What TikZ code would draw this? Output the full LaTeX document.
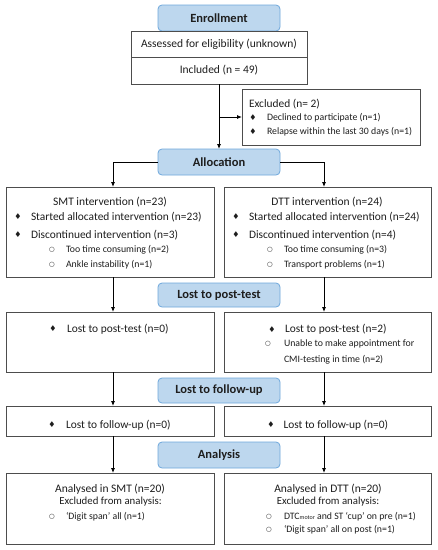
\documentclass[tikz,border=0pt]{standalone}
\usepackage{fontspec}
\setmainfont{Carlito}
\newfontfamily\dejavu{DejaVu Sans}
\usetikzlibrary{arrows.meta}
\definecolor{hdrfill}{HTML}{BDD7EE}
\definecolor{hdrdraw}{HTML}{6FA8DC}
\definecolor{boxdraw}{HTML}{4D4D4D}
\definecolor{txt}{HTML}{1E1E1E}
\newcommand{\dia}{{\dejavu\fontsize{8}{9}\selectfont\char"2666}}
\newcommand{\circb}{{\dejavu\fontsize{6.5}{7}\selectfont\char"25CB}}
\begin{document}
\begin{tikzpicture}[x=1pt,y=-1pt,
  hdr/.style={draw=hdrdraw, fill=hdrfill, rounded corners=4pt, line width=0.8pt,
    minimum width=122pt, inner sep=0pt, outer sep=0pt, text=txt,
    font=\fontsize{12.5}{14}\selectfont\bfseries},
  box/.style={draw=boxdraw, line width=0.8pt, inner sep=0pt, outer sep=0pt},
  lbl/.style={inner sep=0pt, outer sep=0pt, text=txt, font=\fontsize{11.5}{13}\selectfont},
  sml/.style={inner sep=0pt, outer sep=0pt, text=txt, font=\fontsize{9.8}{11}\selectfont, anchor=west},
  big/.style={inner sep=0pt, outer sep=0pt, text=txt, font=\fontsize{11.4}{13}\selectfont, anchor=west},
  mk/.style={inner sep=0pt, outer sep=0pt, text=txt},
  arr/.style={draw=black, line width=0.8pt, -{Latex[length=5pt,width=4pt]}},
  ln/.style={draw=black, line width=0.8pt}]
\useasboundingbox (0,0) rectangle (438,550);
\fill[white] (0,0) rectangle (438,550);

% ---------- Enrollment ----------
\node[hdr, minimum height=26pt] (enr) at (219,18) {Enrollment};
\node[box, minimum width=176pt, minimum height=26pt] (ass) at (219,44) {};
\node[lbl] (asst) at (ass.center) {Assessed for eligibility (unknown)};
\node[box, minimum width=176pt, minimum height=27pt] (inc) at (219,70.5) {};
\node[lbl] (inct) at (inc.center) {Included (n = 49)};

\node[box, minimum width=178pt, minimum height=56pt] (exc) at (331,117) {};
\node[big, font=\fontsize{11.4}{13}\selectfont] (exct) at (249,104) {Excluded (n= 2)};
\node[mk] (exb1) at (253,118) {\dia};
\node[sml] (ex1) at (267,118) {Declined to participate (n=1)};
\node[mk] (exb2) at (253,132) {\dia};
\node[sml] (ex2) at (267,132) {Relapse within the last 30 days (n=1)};

% ---------- Allocation ----------
\node[hdr, minimum height=26pt] (alc) at (219,162) {Allocation};
\coordinate (exj) at (219,117);
\draw[ln] (inc.south) -- (exj);
\draw[arr] (exj) -- (exc.west |- exj);
\draw[arr] (exj) -- (alc.north);

\node[box, minimum width=208pt, minimum height=90pt] (smt) at (110,232) {};
\node[box, minimum width=207pt, minimum height=90pt] (dtt) at (327.5,232) {};
\draw[arr] (alc.west) -| ([xshift=3]smt.north);
\draw[arr] (alc.east) -| ([xshift=-3.5]dtt.north);

\node[lbl] (smtt) at (110,202) {SMT intervention (n=23)};
\node[mk] (sb1) at (18,217) {\dia};
\node[big] (s1) at (31,217) {Started allocated intervention (n=23)};
\node[mk] (sb2) at (18,235) {\dia};
\node[big] (s2) at (31,235) {Discontinued intervention (n=3)};
\node[mk] (sc1) at (52,250) {\circb};
\node[sml] (s3) at (66,250) {Too time consuming (n=2)};
\node[mk] (sc2) at (52,264.5) {\circb};
\node[sml] (s4) at (66,264.5) {Ankle instability (n=1)};

\node[lbl] (dttt) at (327,202) {DTT intervention (n=24)};
\node[mk] (db1) at (236,217) {\dia};
\node[big] (d1) at (249,217) {Started allocated intervention (n=24)};
\node[mk] (db2) at (236,235) {\dia};
\node[big] (d2) at (249,235) {Discontinued intervention (n=4)};
\node[mk] (dc1) at (270,250) {\circb};
\node[sml] (d3) at (284,250) {Too time consuming (n=3)};
\node[mk] (dc2) at (270,264.5) {\circb};
\node[sml] (d4) at (284,264.5) {Transport problems (n=1)};

% ---------- Lost to post-test ----------
\node[hdr, minimum height=24pt] (pst) at (219,295) {Lost to post-test};
\node[box, minimum width=208pt, minimum height=60pt] (psmt) at (110,342) {};
\node[box, minimum width=207pt, minimum height=60pt] (pdtt) at (327.5,342) {};
\draw[arr] ([xshift=3]smt.south) -- ([xshift=3]psmt.north);
\draw[arr] ([xshift=-3.5]dtt.south) -- ([xshift=-3.5]pdtt.north);

\node[mk] (pb1) at (53,329) {\dia};
\node[big] (p1) at (67,329) {Lost to post-test (n=0)};
\node[mk] (pb2) at (272,329.5) {\dia};
\node[big] (p2) at (285,329.5) {Lost to post-test (n=2)};
\node[mk] (pc1) at (268,344.3) {\circb};
\node[sml] (p3) at (284,344.3) {Unable to make appointment for};
\node[sml] (p4) at (284,359.3) {CMI-testing in time (n=2)};

% ---------- Lost to follow-up ----------
\node[hdr, minimum height=25pt] (fol) at (219,390.5) {Lost to follow-up};
\node[box, minimum width=208pt, minimum height=30pt] (fsmt) at (110,421) {};
\node[box, minimum width=207pt, minimum height=30pt] (fdtt) at (327.5,421) {};
\draw[arr] ([xshift=3]psmt.south) -- ([xshift=3]fsmt.north);
\draw[arr] ([xshift=-3.5]pdtt.south) -- ([xshift=-3.5]fdtt.north);

\node[mk] (fb1) at (52,425) {\dia};
\node[big] (f1) at (66,425) {Lost to follow-up (n=0)};
\node[mk] (fb2) at (271,425) {\dia};
\node[big] (f2) at (283.5,425) {Lost to follow-up (n=0)};

% ---------- Analysis ----------
\node[hdr, minimum height=26pt] (ana) at (219,455) {Analysis};
\node[box, minimum width=208pt, minimum height=71pt] (asmt) at (110,508.5) {};
\node[box, minimum width=207pt, minimum height=71pt] (adtt) at (327.5,508.5) {};
\draw[arr] ([xshift=3]fsmt.south) -- ([xshift=3]asmt.north);
\draw[arr] ([xshift=-3.5]fdtt.south) -- ([xshift=-3.5]adtt.north);

\node[lbl] (at1) at (110,489) {Analysed in SMT (n=20)};
\node[lbl, font=\fontsize{10.8}{12}\selectfont] (ae1) at (110.5,502) {Excluded from analysis:};
\node[mk] (ac1) at (52,516.7) {\circb};
\node[sml] (a1) at (66,516.7) {‘Digit span’ all (n=1)};

\node[lbl] (at2) at (328,489) {Analysed in DTT (n=20)};
\node[lbl, font=\fontsize{10.8}{12}\selectfont] (ae2) at (328,502) {Excluded from analysis:};
\node[mk] (ac2) at (269,516.7) {\circb};
\node[sml] (a2) at (284,516.7) {DTC{\fontsize{6}{7}\selectfont motor} and ST ‘cup’ on pre (n=1)};
\node[mk] (ac3) at (269,529.5) {\circb};
\node[sml] (a3) at (284,529.5) {‘Digit span’ all on post (n=1)};
\end{tikzpicture}
\end{document}
